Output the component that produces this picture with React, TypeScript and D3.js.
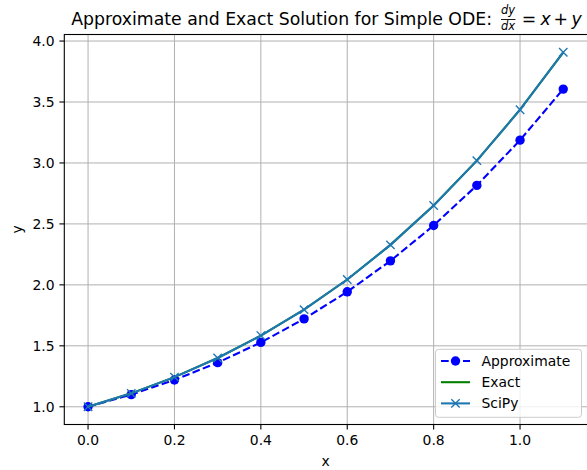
import React, { useEffect, useRef } from 'react'
import * as d3 from 'd3'

const xValues = [0, 0.1, 0.2, 0.3, 0.4, 0.5, 0.6, 0.7, 0.8, 0.9, 1.0, 1.1]
const approxValues = [1.0, 1.1, 1.22, 1.362, 1.528, 1.721, 1.943, 2.197, 2.487, 2.816, 3.187, 3.606]
const exactValues = [1.0, 1.11, 1.243, 1.4, 1.584, 1.797, 2.044, 2.328, 2.651, 3.019, 3.437, 3.908]
const scipyValues = [1.0, 1.11, 1.243, 1.4, 1.584, 1.797, 2.044, 2.328, 2.651, 3.019, 3.437, 3.908]
const xTicks = [0, 0.2, 0.4, 0.6, 0.8, 1.0]
const yTicks = [1.0, 1.5, 2.0, 2.5, 3.0, 3.5, 4.0]
const legendLabels = ['Approximate', 'Exact', 'SciPy']

const App = () => {
  const svgRef = useRef<SVGSVGElement>(null)

  useEffect(() => {
    const width = 587
    const height = 470
    const left = 64.3
    const right = 587
    const top = 34.5
    const bottom = 424.5
    const font = 'DejaVu Sans, sans-serif'
    const fs = '13.9px'

    const svg = d3.select(svgRef.current)
    svg.selectAll('*').remove()
    svg.attr('width', width).attr('height', height)

    const x = d3.scaleLinear().domain([-0.055, 1.155]).range([left, right])
    const y = d3.scaleLinear().domain([0.8546, 4.0537]).range([bottom, top])

    // grid
    const grid = svg.append('g')
    xTicks.forEach((t) => {
      grid.append('line').attr('x1', x(t)).attr('x2', x(t)).attr('y1', top).attr('y2', bottom)
        .attr('stroke', '#b0b0b0').attr('stroke-width', 1)
    })
    yTicks.forEach((t) => {
      grid.append('line').attr('x1', left).attr('x2', right).attr('y1', y(t)).attr('y2', y(t))
        .attr('stroke', '#b0b0b0').attr('stroke-width', 1)
    })

    const line = d3.line<number>().x((d, i) => x(xValues[i])).y((d) => y(d))

    // approximate
    svg.append('path').attr('d', line(approxValues)).attr('fill', 'none')
      .attr('stroke', '#0000ff').attr('stroke-width', 2.1).attr('stroke-dasharray', '7.7,3.3')
    approxValues.forEach((v, i) => {
      svg.append('circle').attr('cx', x(xValues[i])).attr('cy', y(v)).attr('r', 4.7).attr('fill', '#0000ff')
    })

    // exact
    svg.append('path').attr('d', line(exactValues)).attr('fill', 'none')
      .attr('stroke', '#008000').attr('stroke-width', 2.1)

    // scipy
    svg.append('path').attr('d', line(scipyValues)).attr('fill', 'none')
      .attr('stroke', '#1f77b4').attr('stroke-width', 2.1)
    const cross = (g: any, cx: number, cy: number) => {
      const s = 4.2
      g.append('path').attr('d', `M${cx - s},${cy - s}L${cx + s},${cy + s}M${cx - s},${cy + s}L${cx + s},${cy - s}`)
        .attr('stroke', '#1f77b4').attr('stroke-width', 1.4)
    }
    scipyValues.forEach((v, i) => cross(svg, x(xValues[i]), y(v)))

    // spines
    svg.append('rect').attr('x', left).attr('y', top).attr('width', right - left + 2).attr('height', bottom - top)
      .attr('fill', 'none').attr('stroke', '#000').attr('stroke-width', 1.1)

    // ticks
    xTicks.forEach((t) => {
      svg.append('line').attr('x1', x(t)).attr('x2', x(t)).attr('y1', bottom).attr('y2', bottom + 4.9)
        .attr('stroke', '#000').attr('stroke-width', 1.1)
      svg.append('text').attr('x', x(t)).attr('y', 445).attr('text-anchor', 'middle')
        .style('font-family', font).style('font-size', fs).text(t.toFixed(1))
    })
    yTicks.forEach((t) => {
      svg.append('line').attr('x1', left - 4.9).attr('x2', left).attr('y1', y(t)).attr('y2', y(t))
        .attr('stroke', '#000').attr('stroke-width', 1.1)
      svg.append('text').attr('x', 54.5).attr('y', y(t) + 5).attr('text-anchor', 'end')
        .style('font-family', font).style('font-size', fs).text(t.toFixed(1))
    })

    // axis labels
    svg.append('text').attr('x', (left + right) / 2).attr('y', 466).attr('text-anchor', 'middle')
      .style('font-family', font).style('font-size', fs).text('x')
    svg.append('text').attr('transform', `translate(22, ${(top + bottom) / 2}) rotate(-90)`)
      .attr('text-anchor', 'middle').style('font-family', font).style('font-size', fs).text('y')

    // title
    svg.append('text').attr('x', 492).attr('y', 25).attr('text-anchor', 'end')
      .style('font-family', font).style('font-size', '17.3px').text('Approximate and Exact Solution for Simple ODE:')
    svg.append('text').attr('x', 508).attr('y', 14).attr('text-anchor', 'middle')
      .style('font-family', font).style('font-size', '11.5px').style('font-style', 'italic').text('dy')
    svg.append('line').attr('x1', 501).attr('x2', 515.5).attr('y1', 19.5).attr('y2', 19.5)
      .attr('stroke', '#000').attr('stroke-width', 0.9)
    svg.append('text').attr('x', 508).attr('y', 30).attr('text-anchor', 'middle')
      .style('font-family', font).style('font-size', '11.5px').style('font-style', 'italic').text('dx')
    const eqParts = [
      { t: '=', px: 521.8, it: false },
      { t: 'x', px: 540.5, it: true },
      { t: '+', px: 553.5, it: false },
      { t: 'y', px: 571.5, it: true },
    ]
    eqParts.forEach((p) => {
      svg.append('text').attr('x', p.px).attr('y', 25)
        .style('font-family', font).style('font-size', '17.3px')
        .style('font-style', p.it ? 'italic' : 'normal').text(p.t)
    })

    // legend
    const lg = svg.append('g')
    lg.append('rect').attr('x', 435.5).attr('y', 349.3).attr('width', 146).attr('height', 68).attr('rx', 3)
      .attr('fill', 'rgba(255,255,255,0.8)').attr('stroke', '#cccccc').attr('stroke-width', 1)
    const rows = [361, 382.2, 403.4]
    legendLabels.forEach((label, i) => {
      const ry = rows[i]
      const stroke = i === 0 ? '#0000ff' : i === 1 ? '#008000' : '#1f77b4'
      lg.append('line').attr('x1', 441).attr('x2', 470).attr('y1', ry).attr('y2', ry)
        .attr('stroke', stroke).attr('stroke-width', 2.1).attr('stroke-dasharray', i === 0 ? '7.7,3.3' : null)
      if (i === 0) lg.append('circle').attr('cx', 455.5).attr('cy', ry).attr('r', 4.7).attr('fill', '#0000ff')
      if (i === 2) cross(lg, 455.5, ry)
      lg.append('text').attr('x', 481.5).attr('y', ry + 5)
        .style('font-family', font).style('font-size', fs).text(label)
    })
  }, [])

  return (
    <div style={{ position: 'absolute', left: 0, top: 0 }}>
      <svg ref={svgRef}></svg>
    </div>
  )
}

export default App
